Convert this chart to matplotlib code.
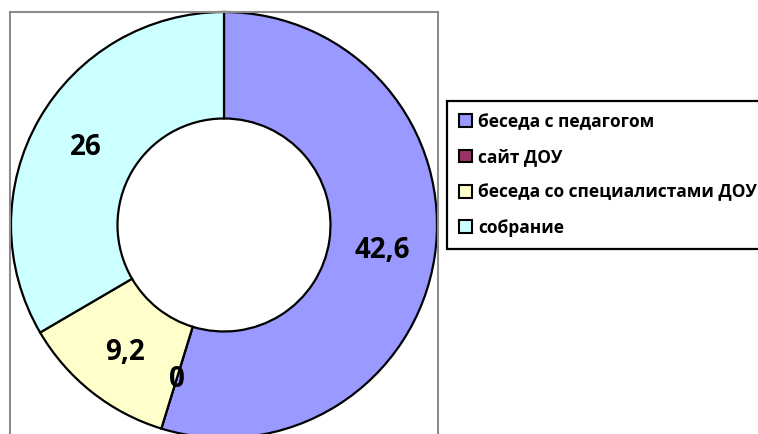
import matplotlib.pyplot as plt
from matplotlib.patches import Rectangle, Patch
import numpy as np

plt.rcParams['font.family'] = ['Open Sans', 'DejaVu Sans']

# data
categories = ["беседа с педагогом", "сайт ДОУ", "беседа со специалистами ДОУ", "собрание"]
values = [42.6, 0, 9.2, 26]
value_labels = ["42,6", "0", "9,2", "26"]
colors = ["#9999FF", "#993366", "#FFFFCC", "#CCFFFF"]

W, H = 758, 434
fig = plt.figure(figsize=(W / 100, H / 100), dpi=100)

# plot area frame (grey), bottom runs off the picture
fig.patches.append(Rectangle((10 / W, -0.05), 428 / W, (H - 12) / H + 0.05,
                             transform=fig.transFigure, fill=False,
                             edgecolor="#8c8c8c", linewidth=1.5, zorder=0))

# pie axes: centre at (224, 225) px, radius 213 px
cx, cy, r = 224, 225, 213
ax = fig.add_axes([(cx - r) / W, (H - cy - r) / H, 2 * r / W, 2 * r / H])
wedges, _ = ax.pie(values, colors=colors, startangle=90, counterclock=False,
                   radius=1, wedgeprops=dict(width=0.5, edgecolor="black", linewidth=1.6))
ax.set_xlim(-1, 1)
ax.set_ylim(-1, 1)
ax.axis("off")

for w, lab in zip(wedges, value_labels):
    ang = np.deg2rad((w.theta1 + w.theta2) / 2)
    ax.text(0.75 * np.cos(ang), 0.75 * np.sin(ang) - 0.01, lab, ha="center", va="center",
            fontsize=20, fontweight="bold", color="black")

handles = [Patch(facecolor=c, edgecolor="black", linewidth=1.5) for c in colors]
leg = fig.legend(handles, categories, loc="upper left",
                 bbox_to_anchor=(447 / W, 1 - 101 / H), borderaxespad=0,
                 frameon=True, fancybox=False, framealpha=1, edgecolor="black",
                 prop=dict(weight="bold", size=12.5), handlelength=0.75, handleheight=0.75,
                 handletextpad=0.35, labelspacing=1.0, borderpad=0.68)
leg.get_frame().set_linewidth(1.6)

fig.savefig("out.png", dpi=100)
